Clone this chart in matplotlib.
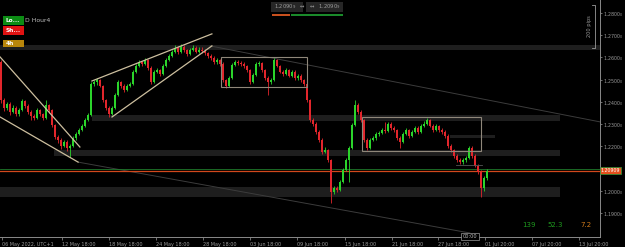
import matplotlib
matplotlib.use('Agg')
import matplotlib.pyplot as plt
from matplotlib.patches import Rectangle
from matplotlib.lines import Line2D
import numpy as np

# ===== GBPUSD H4 candles =====
first_open = 1.2580
closes = [
    1.2409, 1.2373, 1.2391, 1.2355, 1.2373, 1.2346, 1.2364, 1.2404, 1.2382, 1.2355,
    1.2337, 1.2328, 1.2364, 1.2346, 1.2328, 1.2386, 1.2364, 1.2296, 1.2242, 1.2229,
    1.2202, 1.2220, 1.2193, 1.2202, 1.2238, 1.2256, 1.2274, 1.2292, 1.2319, 1.2341,
    1.2481, 1.2490, 1.2499, 1.2472, 1.2409, 1.2373, 1.2346, 1.2373, 1.2431, 1.2490,
    1.2472, 1.2454, 1.2472, 1.2481, 1.2535, 1.2562, 1.2580, 1.2571, 1.2589, 1.2553,
    1.2490, 1.2535, 1.2544, 1.2526, 1.2562, 1.2589, 1.2607, 1.2625, 1.2643, 1.2625,
    1.2647, 1.2634, 1.2616, 1.2634, 1.2643, 1.2625, 1.2634, 1.2630, 1.2620, 1.2607,
    1.2598, 1.2580, 1.2589, 1.2571, 1.2499, 1.2472, 1.2508, 1.2566, 1.2580, 1.2576,
    1.2571, 1.2562, 1.2544, 1.2490, 1.2521, 1.2571, 1.2575, 1.2544, 1.2508, 1.2490,
    1.2499, 1.2589, 1.2562, 1.2535, 1.2526, 1.2544, 1.2517, 1.2535, 1.2508, 1.2517,
    1.2499, 1.2481, 1.2409, 1.2319, 1.2301, 1.2265, 1.2229, 1.2175, 1.2184, 1.2139,
    1.1995, 1.2013, 1.2004, 1.2040, 1.2094, 1.2139, 1.2193, 1.2296, 1.2386, 1.2355,
    1.2319, 1.2229, 1.2193, 1.2229, 1.2238, 1.2256, 1.2260, 1.2274, 1.2270, 1.2301,
    1.2283, 1.2274, 1.2238, 1.2220, 1.2256, 1.2274, 1.2247, 1.2265, 1.2283, 1.2265,
    1.2292, 1.2301, 1.2319, 1.2292, 1.2274, 1.2292, 1.2274, 1.2265, 1.2247, 1.2202,
    1.2184, 1.2157, 1.2139, 1.2130, 1.2139, 1.2148, 1.2193, 1.2157, 1.2112, 1.2085,
    1.2013, 1.2058, 1.2091,
]
highs = [
    1.2590, 1.2418, 1.2400, 1.2398, 1.2385, 1.2380, 1.2372, 1.2412, 1.2410, 1.2390,
    1.2362, 1.2345, 1.2372, 1.2370, 1.2352, 1.2409, 1.2392, 1.2370, 1.2302, 1.2250,
    1.2236, 1.2230, 1.2228, 1.2210, 1.2245, 1.2264, 1.2282, 1.2300, 1.2328, 1.2350,
    1.2490, 1.2500, 1.2508, 1.2505, 1.2478, 1.2415, 1.2380, 1.2380, 1.2440, 1.2498,
    1.2496, 1.2480, 1.2480, 1.2490, 1.2542, 1.2570, 1.2588, 1.2586, 1.2596, 1.2595,
    1.2560, 1.2542, 1.2552, 1.2550, 1.2570, 1.2596, 1.2614, 1.2632, 1.2655, 1.2650,
    1.2660, 1.2654, 1.2640, 1.2642, 1.2656, 1.2650, 1.2645, 1.2645, 1.2638, 1.2626,
    1.2614, 1.2605, 1.2596, 1.2595, 1.2578, 1.2505, 1.2515, 1.2574, 1.2588, 1.2588,
    1.2584, 1.2578, 1.2568, 1.2550, 1.2528, 1.2580, 1.2584, 1.2580, 1.2550, 1.2515,
    1.2508, 1.2598, 1.2595, 1.2568, 1.2542, 1.2552, 1.2550, 1.2542, 1.2545, 1.2525,
    1.2524, 1.2505, 1.2488, 1.2415, 1.2326, 1.2308, 1.2272, 1.2236, 1.2197, 1.2190,
    1.2145, 1.2022, 1.2020, 1.2048, 1.2102, 1.2148, 1.2202, 1.2305, 1.2409, 1.2395,
    1.2362, 1.2325, 1.2236, 1.2236, 1.2246, 1.2264, 1.2268, 1.2282, 1.2310, 1.2310,
    1.2308, 1.2290, 1.2280, 1.2245, 1.2264, 1.2282, 1.2280, 1.2272, 1.2292, 1.2290,
    1.2300, 1.2312, 1.2328, 1.2325, 1.2300, 1.2300, 1.2298, 1.2282, 1.2272, 1.2254,
    1.2210, 1.2190, 1.2164, 1.2146, 1.2148, 1.2156, 1.2202, 1.2200, 1.2164, 1.2120,
    1.2092, 1.2066, 1.2098,
]
lows = [
    1.2395, 1.2360, 1.2365, 1.2340, 1.2348, 1.2335, 1.2338, 1.2360, 1.2372, 1.2345,
    1.2318, 1.2318, 1.2322, 1.2338, 1.2318, 1.2322, 1.2350, 1.2285, 1.2232, 1.2215,
    1.2190, 1.2195, 1.2180, 1.2153, 1.2198, 1.2230, 1.2250, 1.2268, 1.2285, 1.2312,
    1.2336, 1.2470, 1.2478, 1.2465, 1.2400, 1.2362, 1.2332, 1.2340, 1.2368, 1.2425,
    1.2462, 1.2445, 1.2448, 1.2465, 1.2476, 1.2528, 1.2555, 1.2562, 1.2565, 1.2545,
    1.2482, 1.2485, 1.2528, 1.2518, 1.2520, 1.2556, 1.2582, 1.2600, 1.2618, 1.2615,
    1.2620, 1.2625, 1.2608, 1.2610, 1.2628, 1.2618, 1.2618, 1.2620, 1.2610, 1.2598,
    1.2588, 1.2570, 1.2572, 1.2560, 1.2490, 1.2462, 1.2466, 1.2502, 1.2560, 1.2568,
    1.2562, 1.2554, 1.2536, 1.2480, 1.2484, 1.2515, 1.2562, 1.2535, 1.2500, 1.2431,
    1.2482, 1.2494, 1.2555, 1.2528, 1.2518, 1.2520, 1.2510, 1.2510, 1.2500, 1.2500,
    1.2490, 1.2472, 1.2400, 1.2310, 1.2292, 1.2255, 1.2218, 1.2165, 1.2168, 1.2130,
    1.1946, 1.1985, 1.1995, 1.1998, 1.2035, 1.2088, 1.2040, 1.2188, 1.2290, 1.2345,
    1.2310, 1.2220, 1.2185, 1.2188, 1.2222, 1.2230, 1.2248, 1.2254, 1.2262, 1.2264,
    1.2275, 1.2265, 1.2230, 1.2193, 1.2214, 1.2250, 1.2238, 1.2240, 1.2258, 1.2256,
    1.2260, 1.2285, 1.2295, 1.2285, 1.2265, 1.2268, 1.2266, 1.2256, 1.2238, 1.2193,
    1.2175, 1.2148, 1.2130, 1.2120, 1.2122, 1.2130, 1.2142, 1.2148, 1.2105, 1.2076,
    1.1973, 1.2000, 1.2050,
]
bid = 1.2091
ask = 1.2098

# x ticks (candle index) and labels
tick_idx = [0.3, 20.3, 36.0, 51.7, 67.3, 83.0, 98.7, 114.7, 130.3, 145.7, 161.3, 177.0, 192.7]
tick_labels = ['06 May 2022, UTC+1', '12 May 18:00', '18 May 18:00', '24 May 18:00',
               '28 May 18:00', '03 Jun 18:00', '09 Jun 18:00', '15 Jun 18:00',
               '21 Jun 18:00', '27 Jun 18:00', '01 Jul 20:00', '07 Jul 20:00', '13 Jul 20:00']
price_ticks = [1.19, 1.20, 1.22, 1.23, 1.24, 1.25, 1.26, 1.27, 1.28]

# support / resistance zones: (start idx, end idx, low, high)
zones = [
    (-1, 200, 1.2634, 1.2658),
    (30.3, 186.3, 1.2314, 1.2341),
    (17.7, 186.3, 1.2157, 1.2184),
    (-1, 186.3, 1.1972, 1.2017),
    (149.7, 164.7, 1.2237, 1.2251),
]
# trendlines: ((x0, p0), (x1, p1))
trendlines = [
    ((-0.3, 1.2602), (26.3, 1.2197)),
    ((-0.3, 1.2332), (25.7, 1.2129)),
    ((30.3, 1.2494), (70.3, 1.2706)),
    ((37.0, 1.2332), (70.3, 1.2652)),
]
channel_lines = [
    ((25.7, 1.2129), (156.3, 1.1810)),
    ((69.7, 1.2652), (199.7, 1.2310)),
]
# ranges: (x0, x1, low, high)
boxes = [(73.3, 102.0, 1.2467, 1.2602), (120.3, 160.0, 1.2179, 1.2332)]

W, H = 625, 247
fig = plt.figure(figsize=(W / 100, H / 100), dpi=100, facecolor='black')
ax = fig.add_axes([0, 10 / H, 600 / W, 237 / H])
ax.set_facecolor('black')
ax.set_xlim(-1 / 3, 199.67)
ax.set_ylim(1.17920, 1.28585)

def fx(px):
    return px / W

def fy(py):
    return 1 - py / H

for x0, x1, lo, hi in zones:
    ax.add_patch(Rectangle((x0, lo), x1 - x0, hi - lo, facecolor='#1e1e1e', edgecolor='none', zorder=0))

for (x0, p0), (x1, p1) in channel_lines:
    ax.plot([x0, x1], [p0, p1], color='#3c3c3c', lw=0.7, zorder=1)

ax.axhline(ask, color='#1f7a2c', lw=0.6, zorder=1)
ax.axhline(bid, color='#d2481c', lw=0.9, zorder=1)

# candles
closes = np.array(closes)
opens = np.concatenate([[first_open], closes[:-1]])
x = np.arange(len(closes))
up = closes >= opens
colors = np.where(up, '#2bd42b', '#e2262c')
ax.vlines(x, lows, highs, colors=colors, lw=0.6, zorder=2)
body_lo = np.minimum(opens, closes)
body_h = np.maximum(np.abs(closes - opens), 0.00025)
ax.bar(x, body_h, bottom=body_lo, width=0.62, color=colors, edgecolor='none', zorder=3)

for (x0, p0), (x1, p1) in trendlines:
    ax.plot([x0, x1], [p0, p1], color='#cdbf9f', lw=0.9, zorder=4)
for x0, x1, lo, hi in boxes:
    ax.add_patch(Rectangle((x0, lo), x1 - x0, hi - lo, facecolor='none', edgecolor='#8f877a', lw=0.8, zorder=4))
ax.plot([151.7, 160.3], [1.2115, 1.2115], color='#555555', lw=0.6, zorder=4)

# axes styling
for s in ['top', 'left']:
    ax.spines[s].set_visible(False)
ax.spines['right'].set_color('#8a8a8a')
ax.spines['bottom'].set_color('#8a8a8a')
ax.spines['right'].set_linewidth(0.7)
ax.spines['bottom'].set_linewidth(0.7)
ax.yaxis.tick_right()
ax.set_yticks(price_ticks, labels=[f'{p:.4f}$_0$' for p in price_ticks])
ax.set_xticks(tick_idx, labels=tick_labels)
ax.tick_params(axis='y', colors='#9a9a9a', labelsize=3.4, length=1.5, width=0.5, pad=1)
ax.tick_params(axis='x', colors='#9a9a9a', labelsize=3.5, length=2, width=0.5, pad=1.5)
for lab in ax.get_xticklabels():
    lab.set_horizontalalignment('left')

# current price tag
fig.add_artist(Rectangle((fx(600), fy(173.5)), fx(21), 7 / H, transform=fig.transFigure,
                         facecolor='#e5501e', edgecolor='#2a9a3a', lw=0.5, zorder=5))
fig.text(fx(610.5), fy(170), '1.20909', color='white', fontsize=3.4, ha='center', va='center', zorder=6)

# 200 pips ruler
fig.add_artist(Line2D([fx(592), fx(595), fx(595), fx(592)], [fy(5), fy(5), fy(48), fy(48)],
                      color='#9a9a9a', lw=0.6, transform=fig.transFigure))
fig.text(fx(589), fy(26), '200 pips', color='#9a9a9a', fontsize=3.6, rotation=90,
         ha='center', va='center')

# top-left symbol (mostly hidden behind buttons) and trade buttons
fig.text(fx(25), fy(21), 'D Hour4', color='#bdbdbd', fontsize=4.4, va='center', zorder=3)
buttons = [('Lo...', '#0c8c14', 16, 25), ('Sh...', '#e01212', 26, 35), ('4h', '#b8860b', 40, 47)]
for label, col, y0, y1 in buttons:
    fig.add_artist(Rectangle((fx(3), fy(y1)), fx(21), (y1 - y0) / H, transform=fig.transFigure,
                             facecolor=col, edgecolor='none', zorder=5))
    fig.text(fx(6), fy((y0 + y1) / 2), label, color='white', fontsize=4.2, fontweight='bold',
             va='center', zorder=6)

# top centre quick-trade boxes
fig.add_artist(Rectangle((fx(271), fy(12)), fx(32), 10 / H, transform=fig.transFigure,
                         facecolor='#262626', edgecolor='none', zorder=5))
fig.add_artist(Rectangle((fx(306), fy(12)), fx(37), 10 / H, transform=fig.transFigure,
                         facecolor='#262626', edgecolor='none', zorder=5))
fig.text(fx(274), fy(7), '1.2090$_9$   ↔', color='#9a9a9a', fontsize=3.8, va='center', zorder=6)
fig.text(fx(309), fy(7), '↔   1.2090$_9$', color='#9a9a9a', fontsize=3.8, va='center', zorder=6)
fig.add_artist(Rectangle((fx(272), fy(16)), fx(18), 2 / H, transform=fig.transFigure,
                         facecolor='#c8501e', edgecolor='none', zorder=5))
fig.add_artist(Rectangle((fx(291), fy(16)), fx(52), 2 / H, transform=fig.transFigure,
                         facecolor='#1a8a2a', edgecolor='none', zorder=5))

# bottom-right stats
fig.text(fx(522), fy(225), '139', color='#1f9a1f', fontsize=5, va='center')
fig.text(fx(547), fy(225), '52.3', color='#1f9a1f', fontsize=5, va='center')
fig.text(fx(580), fy(225), '7.2', color='#d07a1a', fontsize=5, va='center')

# time marker
fig.add_artist(Rectangle((fx(461), fy(240)), fx(18), 7 / H, transform=fig.transFigure,
                         facecolor='black', edgecolor='#9a9a9a', lw=0.5, zorder=5))
fig.text(fx(470), fy(236.5), '00:00', color='#bdbdbd', fontsize=3.6, ha='center', va='center', zorder=6)

fig.savefig('out.png', dpi=100, facecolor='black')
